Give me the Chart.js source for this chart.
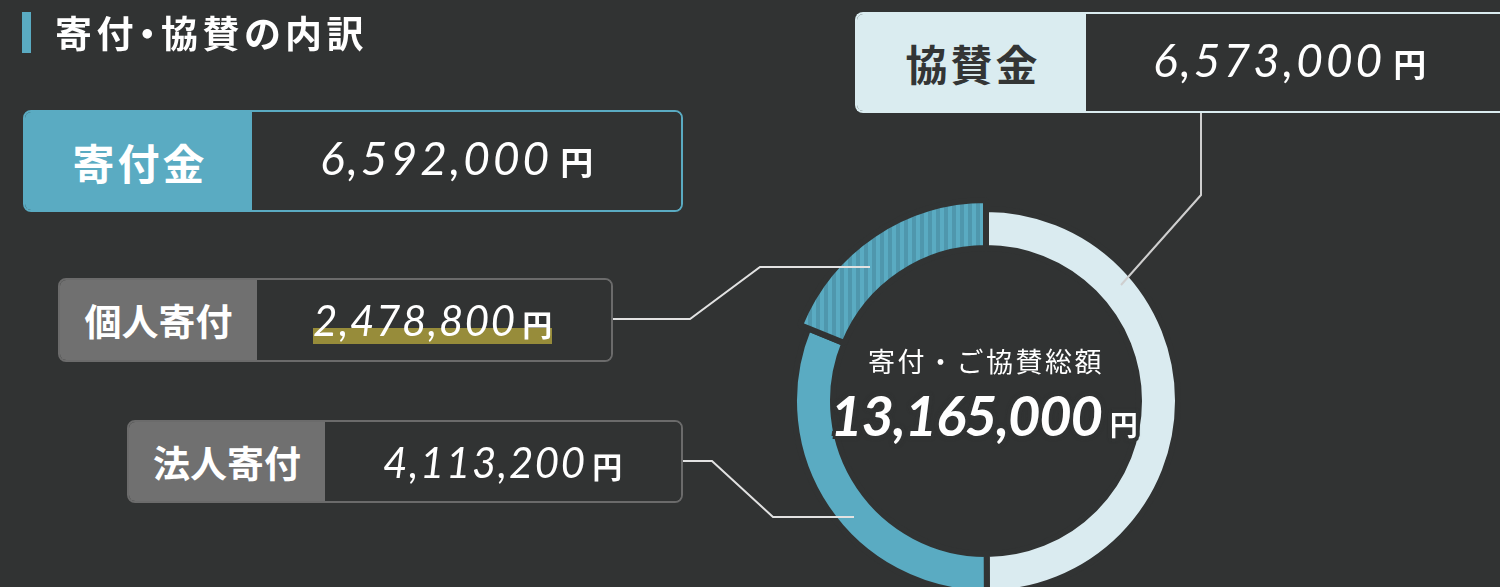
<!DOCTYPE html>
<html lang="ja"><head><meta charset="utf-8">
<script src="https://cdn.jsdelivr.net/npm/chart.js@4.4.1/dist/chart.umd.min.js"></script>
<style>
html,body{margin:0;padding:0;background:#313333;width:1500px;height:587px;overflow:hidden;}
body{position:relative;font-family:"Noto Sans CJK JP","Noto Sans",sans-serif;color:#fff;}
#c{position:absolute;left:0;top:0;z-index:0;}
.title{position:absolute;left:22px;top:12px;height:41px;border-left:9px solid #5aabc2;padding-left:24px;
  font-size:37px;font-weight:700;line-height:41px;letter-spacing:4.5px;white-space:nowrap;z-index:2;
  font-feature-settings:"palt" 1;}
.box{position:absolute;display:flex;box-sizing:border-box;border:2px solid;border-radius:8px;overflow:hidden;z-index:2;}
.box .lab{display:flex;align-items:center;justify-content:center;font-weight:700;flex:none;}
.box .val{flex:1;display:flex;align-items:center;justify-content:flex-start;background:#313333;}
.grp{position:relative;display:inline-flex;align-items:baseline;white-space:nowrap;}
.num{font-family:"Lato",sans-serif;font-style:italic;font-weight:400;position:relative;z-index:1;line-height:1;}
.yen{font-family:"Noto Sans CJK JP",sans-serif;font-weight:700;position:relative;z-index:1;line-height:1;}
.hl{position:absolute;left:0;right:0;background:#978c3a;z-index:0;}
.center{position:absolute;left:786px;width:400px;text-align:center;z-index:2;white-space:nowrap;}
.halo{text-shadow:
  4px 0 0 #313333,-4px 0 0 #313333,0 4px 0 #313333,0 -4px 0 #313333,
  3px 3px 0 #313333,-3px 3px 0 #313333,3px -3px 0 #313333,-3px -3px 0 #313333,
  0 0 5px #313333;}
</style></head>
<body>
<canvas id="c" width="1500" height="587"></canvas>
<div class="title" id="title"></div>
<div id="boxes"></div>
<div class="center" id="ctitle" style="top:346px;font-size:27px;line-height:30px;letter-spacing:2.5px;"></div>
<div class="center" id="ctotal" style="top:385px;line-height:60px;left:784px;"></div>
<script>
// ---- data ----
const titleText = '寄付・協賛の内訳';
const categories = ['協賛金', '法人寄付', '個人寄付'];
const amounts = [6573000, 4113200, 2478800];
const groupLabels = ['寄付金', '協賛金'];
const groupTotals = [6592000, 6573000];
const centerLabel = '寄付・ご協賛総額';
const grandTotal = 13165000;
const yenUnit = '円';

const BG = '#313333';
const fmt = v => v.toLocaleString('en-US');

document.getElementById('title').textContent = titleText;

// ---- boxes ----
const boxSpecs = [
  {label: groupLabels[0], value: groupTotals[0], left:23, top:110, w:660, h:102, border:'#5aabc2', labBg:'#5aabc2', labColor:'#fff', labW:224, labFont:42, labLs:3, numFont:46, numLs:3, yenFont:33, yenMl:11, padL:68, shift:-3, hl:false},
  {label: groupLabels[1], value: groupTotals[1], left:855, top:12, w:720, h:101, border:'#daecf0', labBg:'#daecf0', labColor:'#333535', labW:226, labFont:42, labLs:3, numFont:46, numLs:3, yenFont:33, yenMl:11, padL:67, shift:-3, hl:false},
  {label: categories[2], value: amounts[2], left:58, top:278, w:555, h:84, border:'#6b6b6b', labBg:'#707070', labColor:'#fff', labW:197, labFont:37, labLs:0, numFont:42, numLs:1.6, yenFont:30, yenMl:7, padL:56, shift:0, hl:true},
  {label: categories[1], value: amounts[1], left:127, top:420, w:556, h:83, border:'#6b6b6b', labBg:'#707070', labColor:'#fff', labW:196, labFont:37, labLs:0, numFont:42, numLs:1.6, yenFont:30, yenMl:7, padL:58, shift:0, hl:false}
];
const boxesEl = document.getElementById('boxes');
boxSpecs.forEach(s => {
  const b = document.createElement('div');
  b.className = 'box';
  Object.assign(b.style, {left:s.left+'px', top:s.top+'px', width:s.w+'px', height:s.h+'px', borderColor:s.border});
  if (s.left + s.w > 1500) { b.style.borderRight = 'none'; }
  const lab = document.createElement('div');
  lab.className = 'lab';
  Object.assign(lab.style, {width:s.labW+'px', background:s.labBg, color:s.labColor, fontSize:s.labFont+'px', letterSpacing:s.labLs+'px', paddingLeft:s.labLs+'px'});
  lab.textContent = s.label;
  const val = document.createElement('div');
  val.className = 'val';
  val.style.paddingLeft = s.padL + 'px';
  const grp = document.createElement('span');
  grp.className = 'grp';
  grp.style.top = s.shift + 'px';
  if (s.hl) {
    const hl = document.createElement('span');
    hl.className = 'hl';
    hl.style.top = '29px';
    hl.style.height = '16px';
    hl.style.left = '0px';
    grp.appendChild(hl);
  }
  const n = document.createElement('span');
  n.className = 'num'; n.style.fontSize = s.numFont + 'px'; n.style.letterSpacing = s.numLs + 'px';
  n.textContent = fmt(s.value);
  const y = document.createElement('span');
  y.className = 'yen'; y.style.fontSize = s.yenFont + 'px'; y.style.marginLeft = (s.yenMl - s.numLs) + 'px';
  y.textContent = yenUnit;
  grp.appendChild(n); grp.appendChild(y);
  val.appendChild(grp);
  b.appendChild(lab); b.appendChild(val);
  boxesEl.appendChild(b);
});

document.getElementById('ctitle').textContent = centerLabel;
document.getElementById('ctotal').innerHTML =
  '<span class="halo" style="font-family:Lato,sans-serif;font-style:italic;font-weight:700;font-size:56px;letter-spacing:-1.2px;">' + fmt(grandTotal) +
  '</span><span class="halo" style="font-family:\'Noto Sans CJK JP\',sans-serif;font-weight:700;font-size:28px;margin-left:8px;">' + yenUnit + '</span>';

// ---- stripe pattern ----
const pc = document.createElement('canvas');
pc.width = 8; pc.height = 8;
const pctx = pc.getContext('2d');
pctx.fillStyle = '#5aabc2'; pctx.fillRect(0, 0, 8, 8);
pctx.fillStyle = '#4f97ad'; pctx.fillRect(0, 0, 4, 8);
const ctx = document.getElementById('c').getContext('2d');
const stripe = ctx.createPattern(pc, 'repeat');

// thicker ring for 個人寄付
const thickPlugin = {
  id: 'thick',
  afterDatasetsUpdate(chart) {
    const arc = chart.getDatasetMeta(0).data[2];
    if (arc) arc.outerRadius += 9;
  }
};
// leader lines (decoration)
const leaderPlugin = {
  id: 'leaders',
  afterDatasetsDraw(chart) {
    const c = chart.ctx;
    const lines = [
      {color:'#e2e2e2', pts:[[613,319],[690,319],[760,267],[870,267]]},
      {color:'#e2e2e2', pts:[[683,461],[712,461],[773,517],[854,517]]},
      {color:'#cfcfcf', pts:[[1201,113],[1201,195],[1121,285]]}
    ];
    c.save();
    c.lineWidth = 2;
    c.lineJoin = 'miter';
    lines.forEach(l => {
      c.strokeStyle = l.color;
      c.beginPath();
      l.pts.forEach((p, i) => i ? c.lineTo(p[0], p[1]) : c.moveTo(p[0], p[1]));
      c.stroke();
    });
    c.restore();
  }
};

new Chart(ctx, {
  type: 'doughnut',
  data: {
    labels: categories,
    datasets: [{
      data: amounts,
      backgroundColor: ['#daebf0', '#5aabc2', stripe],
      borderColor: BG,
      borderWidth: 6,
      clip: false
    }]
  },
  options: {
    responsive: false,
    animation: false,
    devicePixelRatio: 1,
    events: [],
    radius: 192,
    cutout: '79.6875%',
    rotation: 0,
    layout: {padding: {left:700, right:228, top:215, bottom:0}},
    plugins: {legend: {display:false}, tooltip: {enabled:false}}
  },
  plugins: [thickPlugin, leaderPlugin]
});
</script>
</body></html>
